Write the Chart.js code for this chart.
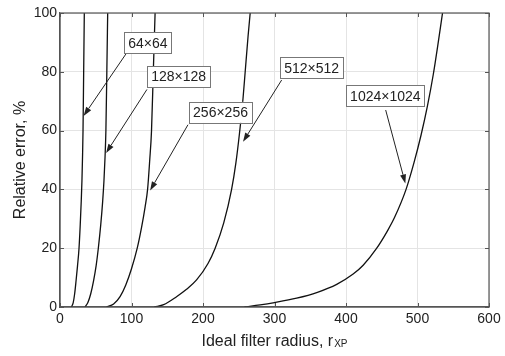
<!DOCTYPE html>
<html>
<head>
<meta charset="utf-8">
<script src="https://cdn.jsdelivr.net/npm/chart.js@4/dist/chart.umd.min.js"></script>
<style>
html, body { margin: 0; padding: 0; background: #fff; }
</style>
</head>
<body>
<canvas id="myChart" width="505" height="356"></canvas>
<script>
// curves: filter radius (x) vs relative error % (y)
const r64 = [16, 18.5, 20.5, 22.5, 24.5, 26.6, 28.3, 29.7, 30.7, 31.5, 32.2, 33.1, 34];
const e64 = [0, 1.5, 4.5, 9, 14, 20, 28, 36, 43, 51, 60, 80, 100];
const r128 = [35, 39, 43, 47, 50.5, 53.6, 57, 59.7, 61.5, 63, 64.2, 65.5, 66.7];
const e128 = [0, 1.5, 4.5, 9, 14, 20, 28, 36, 43, 51, 60, 80, 100];
const r256 = [65, 75, 84, 92, 100, 108, 114, 119, 122.5, 125.5, 128, 130.5, 133];
const e256 = [0, 1, 3.5, 7.5, 13, 20, 27, 34, 40, 50, 60, 80, 100];
const r512 = [132, 145, 163, 177, 191, 207, 217, 229, 240, 246, 251, 256, 259, 263, 266];
const e512 = [0, 0.8, 3.5, 6, 9.2, 14.8, 20, 28.6, 40, 49, 59, 71, 80, 92, 100];
const r1024 = [258, 280, 300, 331, 360, 387, 410, 424, 443, 458, 468, 484, 495, 505, 514, 522, 529, 535];
const e1024 = [0, 0.7, 1.5, 3.0, 5.0, 7.7, 11.2, 14.2, 20, 25.9, 30.5, 40, 49, 58.5, 68.5, 79, 90, 100];

// labels with arrows, in data units
const labelText = ['64\u00d764', '128\u00d7128', '256\u00d7256', '512\u00d7512', '1024\u00d71024'];
const labelX = [123, 166, 224.5, 352, 455];
const labelY = [89.8, 78.4, 66.2, 81.3, 71.8];
const arrowFromX = [94, 121.6, 179, 310, 455.5];
const arrowFromY = [86.7, 74, 62, 77.2, 67];
const arrowToX = [33, 64.5, 126, 256, 483];
const arrowToY = [65, 52.4, 39.6, 56.2, 42];

const xTitle = 'Ideal filter radius, r';
const xTitleSub = 'XP';
const yTitle = 'Relative error, %';

const FONT = "'Liberation Sans', Arial, sans-serif";

function toPoints(xs, ys) {
    return xs.map((v, i) => ({x: v, y: ys[i]}));
}

function curve(xs, ys) {
    return {
        data: toPoints(xs, ys),
        showLine: true,
        borderColor: '#111',
        borderWidth: 1.3,
        pointRadius: 0,
        cubicInterpolationMode: 'monotone',
        fill: false
    };
}

const decorPlugin = {
    id: 'decor',
    afterDatasetsDraw(chart) {
        const ctx = chart.ctx, a = chart.chartArea;
        const xs = chart.scales.x, ys = chart.scales.y;
        ctx.save();
        // frame box
        ctx.strokeStyle = '#555';
        ctx.lineWidth = 1.2;
        ctx.strokeRect(a.left, a.top, a.right - a.left, a.bottom - a.top);
        // inner ticks like matlab
        ctx.lineWidth = 1;
        ctx.beginPath();
        xs.ticks.forEach(t => {
            const px = Math.round(xs.getPixelForValue(t.value)) + 0.5;
            ctx.moveTo(px, a.bottom); ctx.lineTo(px, a.bottom - 4);
            ctx.moveTo(px, a.top); ctx.lineTo(px, a.top + 4);
        });
        ys.ticks.forEach(t => {
            const py = Math.round(ys.getPixelForValue(t.value)) + 0.5;
            ctx.moveTo(a.left, py); ctx.lineTo(a.left + 4, py);
            ctx.moveTo(a.right, py); ctx.lineTo(a.right - 4, py);
        });
        ctx.stroke();

        // arrows
        ctx.strokeStyle = '#222';
        ctx.fillStyle = '#222';
        ctx.lineWidth = 1;
        for (let i = 0; i < labelText.length; i++) {
            const x0 = xs.getPixelForValue(arrowFromX[i]), y0 = ys.getPixelForValue(arrowFromY[i]);
            const x1 = xs.getPixelForValue(arrowToX[i]), y1 = ys.getPixelForValue(arrowToY[i]);
            const ang = Math.atan2(y1 - y0, x1 - x0);
            const len = 9, hw = 3;
            const bx = x1 - len * Math.cos(ang), by = y1 - len * Math.sin(ang);
            ctx.beginPath();
            ctx.moveTo(x0, y0);
            ctx.lineTo(bx, by);
            ctx.stroke();
            ctx.beginPath();
            ctx.moveTo(x1, y1);
            ctx.lineTo(bx + hw * Math.sin(ang), by - hw * Math.cos(ang));
            ctx.lineTo(bx - hw * Math.sin(ang), by + hw * Math.cos(ang));
            ctx.closePath();
            ctx.fill();
        }

        // label boxes
        ctx.font = '14px ' + FONT;
        ctx.textAlign = 'center';
        ctx.textBaseline = 'middle';
        for (let i = 0; i < labelText.length; i++) {
            const cx = xs.getPixelForValue(labelX[i]), cy = ys.getPixelForValue(labelY[i]);
            const w = ctx.measureText(labelText[i]).width + 8, h = 21;
            ctx.fillStyle = '#fff';
            ctx.fillRect(cx - w / 2, cy - h / 2, w, h);
            ctx.strokeStyle = '#777';
            ctx.strokeRect(Math.round(cx - w / 2) + 0.5, Math.round(cy - h / 2) + 0.5, Math.round(w), h);
            ctx.fillStyle = '#222';
            ctx.fillText(labelText[i], cx, cy + 1);
        }
        ctx.restore();
    },
    afterDraw(chart) {
        const ctx = chart.ctx, a = chart.chartArea;
        ctx.save();
        ctx.fillStyle = '#222';
        ctx.textBaseline = 'alphabetic';
        // x title with subscript
        ctx.font = '16px ' + FONT;
        const w1 = ctx.measureText(xTitle).width;
        ctx.font = '10px ' + FONT;
        const w2 = ctx.measureText(xTitleSub).width;
        const sx = (a.left + a.right) / 2 - (w1 + w2 + 1) / 2;
        ctx.font = '16px ' + FONT;
        ctx.textAlign = 'left';
        ctx.fillText(xTitle, sx, 346);
        ctx.font = '10px ' + FONT;
        ctx.fillText(xTitleSub, sx + w1 + 1, 347);
        // y title
        ctx.translate(25, (a.top + a.bottom) / 2);
        ctx.rotate(-Math.PI / 2);
        ctx.font = '16px ' + FONT;
        ctx.textAlign = 'center';
        ctx.fillText(yTitle, 0, 0);
        ctx.restore();
    }
};

const ctx = document.getElementById('myChart').getContext('2d');
const myChart = new Chart(ctx, {
    type: 'scatter',
    data: {
        datasets: [
            curve(r64, e64),
            curve(r128, e128),
            curve(r256, e256),
            curve(r512, e512),
            curve(r1024, e1024)
        ]
    },
    options: {
        responsive: false,
        animation: false,
        layout: { padding: { top: 13, right: 16, left: 0, bottom: 0 } },
        plugins: {
            legend: { display: false },
            tooltip: { enabled: false }
        },
        scales: {
            x: {
                type: 'linear',
                min: 0,
                max: 600,
                ticks: {
                    stepSize: 100,
                    color: '#222',
                    font: { family: FONT, size: 14 },
                    padding: 4,
                    maxRotation: 0
                },
                grid: {
                    color: '#e4e4e4',
                    drawTicks: false
                },
                border: { color: '#555', width: 1.2 },
                afterFit: s => { s.height = 49; }
            },
            y: {
                min: 0,
                max: 100,
                ticks: {
                    stepSize: 20,
                    color: '#222',
                    font: { family: FONT, size: 14 },
                    padding: 3
                },
                grid: {
                    color: '#e4e4e4',
                    drawTicks: false
                },
                border: { color: '#555', width: 1.2 },
                afterFit: s => { s.width = 60; }
            }
        }
    },
    plugins: [decorPlugin]
});
</script>
</body>
</html>
